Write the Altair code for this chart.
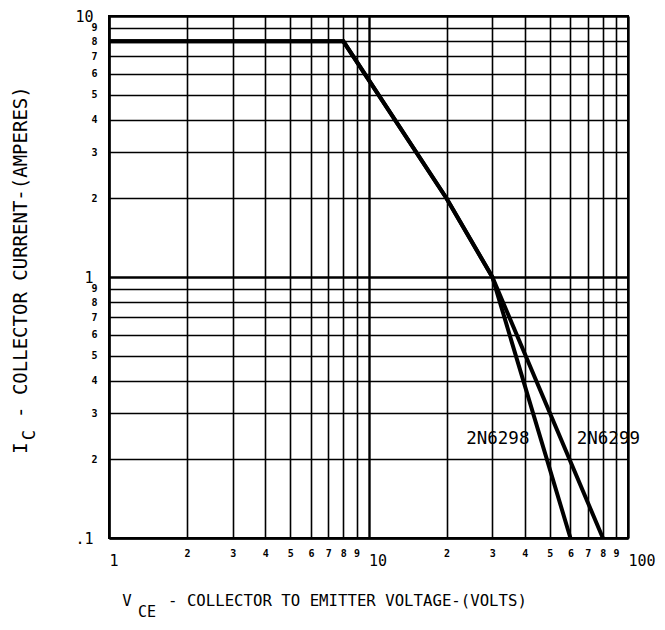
import altair as alt
import pandas as pd

# ---- data ----
x_ticks = [1, 2, 3, 4, 5, 6, 7, 8, 9, 10, 20, 30, 40, 50, 60, 70, 80, 90, 100]
y_ticks = [0.1, 0.2, 0.3, 0.4, 0.5, 0.6, 0.7, 0.8, 0.9,
           1, 2, 3, 4, 5, 6, 7, 8, 9, 10]

s2n6298_x = [1, 8, 20, 30, 60]
s2n6298_y = [8, 8, 2, 1, 0.1]
s2n6299_x = [1, 8, 20, 30, 80]
s2n6299_y = [8, 8, 2, 1, 0.1]

label_text = ["2N6298", "2N6299"]
label_x = [31.5, 84.0]
label_y = [0.24, 0.24]

FONT = "DejaVu Sans Mono"

rows = []
for i, (xx, yy) in enumerate(zip(s2n6298_x, s2n6298_y)):
    rows.append({"series": "2N6298", "order": i, "vce": xx, "ic": yy})
for i, (xx, yy) in enumerate(zip(s2n6299_x, s2n6299_y)):
    rows.append({"series": "2N6299", "order": i, "vce": xx, "ic": yy})
df = pd.DataFrame(rows)

lab_df = pd.DataFrame({"t": label_text, "vce": label_x, "ic": label_y})

major = "abs(log(datum.value)/LN10 - round(log(datum.value)/LN10)) < 1e-6"
mant = "format(datum.value / pow(10, floor(log(datum.value)/LN10 + 1e-6)), '.0f')"

x_axis = alt.Axis(
    values=x_ticks,
    title=None,
    grid=True,
    gridColor="black",
    gridOpacity=1,
    gridWidth={"condition": {"test": major, "value": 2.4}, "value": 1.6},
    ticks=False,
    domain=True,
    domainColor="black",
    domainWidth=2,
    labelExpr=f"datum.value == 1 ? '1' : datum.value == 10 ? '10' : datum.value == 100 ? '100' : {mant}",
    labelFont=FONT,
    labelColor="black",
    labelFontSize={"condition": {"test": major, "value": 15}, "value": 10},
    labelFontWeight={"condition": {"test": major, "value": "normal"}, "value": "bold"},
    labelAlign={"condition": {"test": major, "value": "left"}, "value": "center"},
    labelBaseline="top",
    labelPadding={"condition": {"test": major, "value": 15}, "value": 10},
    labelFlush=False,
    labelOverlap=False,
    labelBound=False,
)

y_axis = alt.Axis(
    values=y_ticks,
    title=None,
    grid=True,
    gridColor="black",
    gridOpacity=1,
    gridWidth={"condition": {"test": major, "value": 2.4}, "value": 1.6},
    ticks=False,
    domain=True,
    domainColor="black",
    domainWidth=2,
    labelExpr=f"datum.value == 0.1 ? '.1' : datum.value == 1 ? '1' : datum.value == 10 ? '10' : {mant}",
    labelFont=FONT,
    labelColor="black",
    labelFontSize={"condition": {"test": major, "value": 15}, "value": 10},
    labelFontWeight={"condition": {"test": major, "value": "normal"}, "value": "bold"},
    labelAlign="right",
    labelBaseline="middle",
    labelPadding={"condition": {"test": major, "value": 16}, "value": 12},
    labelFlush=False,
    labelOverlap=False,
    labelBound=False,
)

xs = alt.Scale(type="log", domain=[1, 100], nice=False)
ys = alt.Scale(type="log", domain=[0.1, 10], nice=False)

lines = alt.Chart(df).mark_line(color="black", strokeWidth=4, strokeJoin="miter").encode(
    x=alt.X("vce:Q", scale=xs, axis=x_axis),
    y=alt.Y("ic:Q", scale=ys, axis=y_axis),
    detail="series:N",
    order="order:Q",
)

labels = alt.Chart(lab_df).mark_text(font=FONT, fontSize=17.5, color="black",
                                     align="center", baseline="middle").encode(
    x=alt.X("vce:Q", scale=xs),
    y=alt.Y("ic:Q", scale=ys),
    text="t:N",
)


def txt(s, x, y, size=15.7, angle=0, align="left"):
    return alt.Chart(pd.DataFrame({"t": [s]})).mark_text(
        font=FONT, fontSize=size, color="black", align=align, baseline="middle",
        angle=angle,
    ).encode(x=alt.value(x), y=alt.value(y), text="t:N")


titles = [
    txt("V", 18, 585, align="center"),
    txt("CE", 38, 596, size=15, align="center"),
    txt("- COLLECTOR TO EMITTER VOLTAGE-(VOLTS)", 59, 585),
    txt("I", -88, 432, size=19, angle=270, align="center"),
    txt("C", -79, 419, size=17, angle=270, align="center"),
    txt("- COLLECTOR CURRENT-(AMPERES)", -88, 402, size=19, angle=270),
]

chart = alt.layer(lines, labels, *titles).properties(
    width=519,
    height=522,
    autosize=alt.AutoSizeParams(type="none"),
    padding={"left": 101, "top": 8, "right": 29, "bottom": 84},
).configure_view(stroke="black", strokeWidth=2)

chart.save("out.html", embed_options={"renderer": "svg", "actions": False})
